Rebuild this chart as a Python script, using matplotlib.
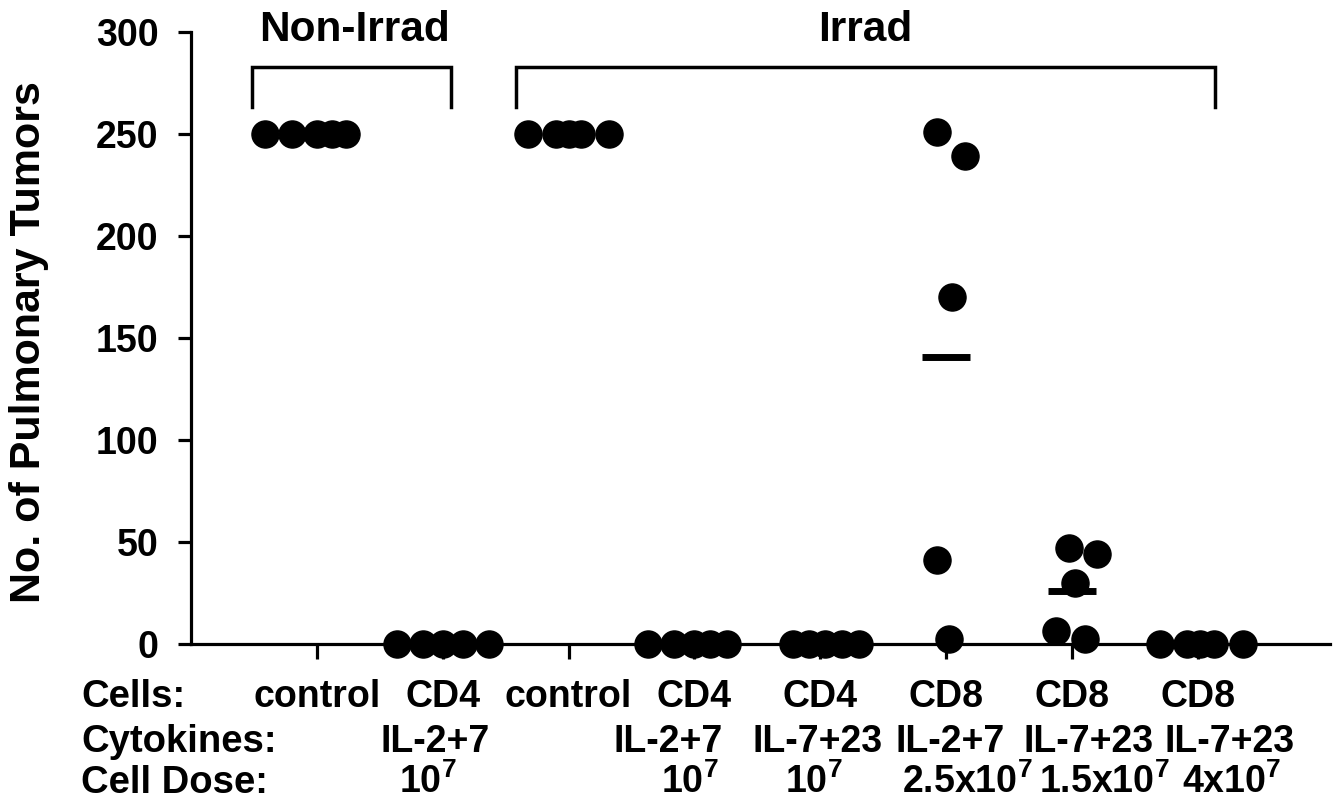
import matplotlib
matplotlib.use("Agg")
import matplotlib.pyplot as plt
import matplotlib.transforms as mtrans
import numpy as np

plt.rcParams['font.family'] = ['Liberation Sans', 'DejaVu Sans']
plt.rcParams['font.weight'] = 'bold'
plt.rcParams['mathtext.fontset'] = 'custom'
plt.rcParams['mathtext.bf'] = 'Liberation Sans:bold'
plt.rcParams['mathtext.rm'] = 'Liberation Sans:bold'
plt.rcParams['mathtext.default'] = 'bf'

# ---- data ----
cells = ["control", "CD4", "control", "CD4", "CD4", "CD8", "CD8", "CD8"]
cytokines = ["", "IL-2+7", "", "IL-2+7", "IL-7+23", "IL-2+7", "IL-7+23", "IL-7+23"]
doses = ["", r"$10^7$", "", r"$10^7$", r"$10^7$", r"$2.5x10^7$", r"$1.5x10^7$", r"$4x10^7$"]
row_titles = ["Cells:", "Cytokines:", "Cell Dose:"]

tumors = [
    [250, 250, 250, 250, 250],
    [0, 0, 0, 0, 0],
    [250, 250, 250, 250, 250],
    [0, 0, 0, 0, 0],
    [0, 0, 0, 0, 0],
    [251, 239, 170, 41, 2.5],
    [47, 44, 30, 6.4, 2.5],
    [0, 0, 0, 0, 0],
]
jitter = [
    [-0.41, -0.20, 0.00, 0.12, 0.23],
    [-0.36, -0.16, 0.00, 0.16, 0.37],
    [-0.32, -0.10, 0.00, 0.10, 0.32],
    [-0.37, -0.16, 0.00, 0.12, 0.26],
    [-0.22, -0.09, 0.04, 0.17, 0.31],
    [-0.07, 0.15, 0.05, -0.07, 0.02],
    [-0.02, 0.20, 0.02, -0.13, 0.10],
    [-0.30, -0.09, 0.02, 0.13, 0.36],
]
groups = ["Non-Irrad", "Irrad"]

# horizontal placement of label rows relative to each tick (layout only)
row_shift = [
    [0, 0, 0, 0, 0, 0, 0, 0],
    [0, -0.06, 0, -0.21, -0.02, 0.03, 0.13, 0.25],
    [0, -0.12, 0, -0.04, -0.05, 0.17, 0.26, 0.27],
]

# ---- figure ----
W, H = 1337, 809
fig = plt.figure(figsize=(W / 100, H / 100), dpi=100)
ax_left, ax_right = 191 / W, 1330 / W
ax_bottom, ax_top = (H - 644) / H, (H - 32) / H
ax = fig.add_axes([ax_left, ax_bottom, ax_right - ax_left, ax_top - ax_bottom])

xpos = np.arange(1, len(cells) + 1)
for x, vals, jit in zip(xpos, tumors, jitter):
    m = np.mean(vals)
    ax.hlines(m, x - 0.19, x + 0.19, color='black', linewidth=5, zorder=2)
    ax.plot(x + np.array(jit), vals, 'o', color='black', ms=19.5,
            ls='none', zorder=3, clip_on=False)

ax.set_xlim(0, 9.05)
ax.set_ylim(0, 300)
ax.set_yticks([0, 50, 100, 150, 200, 250, 300])
ax.set_xticks(xpos)
ax.set_xticklabels([])
for s in ['top', 'right']:
    ax.spines[s].set_visible(False)
for s in ['left', 'bottom']:
    ax.spines[s].set_linewidth(2.3)
ax.tick_params(axis='y', length=9.5, width=2.3, labelsize=27, pad=14)
ax.tick_params(axis='x', length=11, width=2.3)
for lab in ax.get_yticklabels():
    lab.set_fontweight('bold')

# bottom label rows
trans = ax.get_xaxis_transform()
row_y = [-0.103, -0.1765, -0.2435]
for rows, yy, shifts in zip([cells, cytokines, doses], row_y, row_shift):
    for x, t, sh in zip(xpos, rows, shifts):
        if t:
            ax.text(x + sh, yy, t, transform=trans, ha='center', va='baseline',
                    fontsize=27, fontweight='bold', clip_on=False)
tl = mtrans.blended_transform_factory(fig.transFigure, ax.transAxes)
for t, yy in zip(row_titles, row_y):
    fig.text(81 / W, yy, t, transform=tl, ha='left', va='baseline',
             fontsize=27.5, fontweight='bold')

# y label
fig.text(29 / W, 1 - 342 / H, "No. of Pulmonary Tumors", rotation=90,
         ha='center', va='center', fontsize=31, fontweight='bold')

# brackets and group labels
brackets = [(0.485, 2.066), (2.58, 8.14)]
label_x = [1.30, 5.36]
for (x0, x1), lx, g in zip(brackets, label_x, groups):
    ax.plot([x0, x0, x1, x1], [263, 283, 283, 263], color='black',
            linewidth=2.5, clip_on=False, solid_joinstyle='miter')
    ax.text(lx, 295.5, g, ha='center', va='baseline', fontsize=30.5,
            fontweight='bold', clip_on=False)

fig.savefig("out.png", dpi=100)
